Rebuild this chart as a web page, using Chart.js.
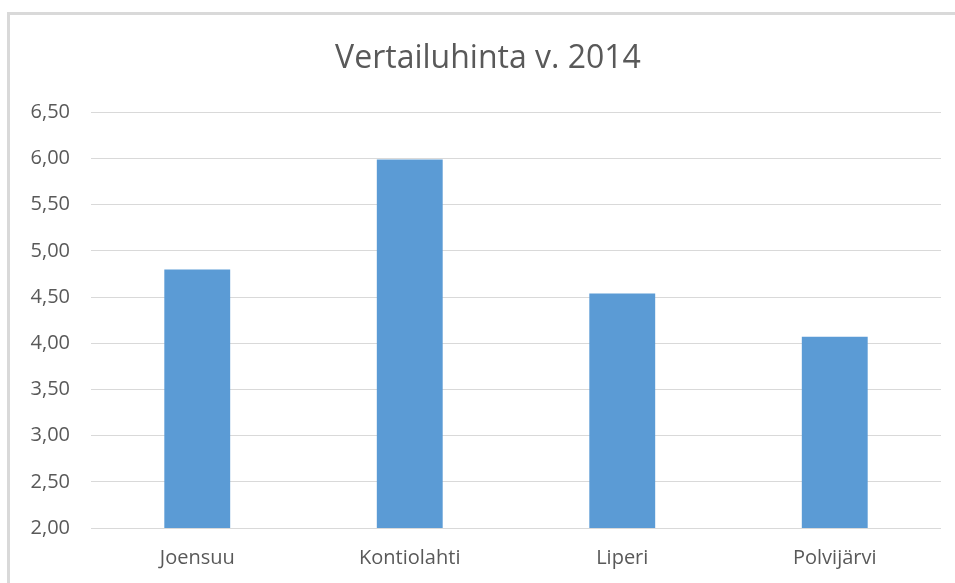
<!DOCTYPE html>
<html>
<head>
<meta charset="utf-8">
<script src="https://cdn.jsdelivr.net/npm/chart.js@4/dist/chart.umd.min.js"></script>
<style>
  html, body { margin: 0; padding: 0; background: #fff; overflow: hidden; width: 955px; height: 583px; }
  #frame { position: absolute; left: 7px; top: 12px; width: 980px; height: 600px;
           border-left: 3px solid #d9d9d9; border-top: 3px solid #d9d9d9; }
  #box { position: absolute; left: 0; top: 0; width: 960px; height: 568px; }
</style>
</head>
<body>
<div id="frame"><div id="box"><canvas id="c"></canvas></div></div>
<script>
const chartTitle = "Vertailuhinta v. 2014";
const categories = ["Joensuu", "Kontiolahti", "Liperi", "Polvijärvi"];
const values = [4.80, 5.99, 4.54, 4.07];
const yMin = 2.0, yMax = 6.5, yStep = 0.5;

const txt = '#595959';
new Chart(document.getElementById('c'), {
  type: 'bar',
  data: {
    labels: categories,
    datasets: [{
      data: values,
      backgroundColor: '#5b9bd5',
      borderWidth: 0,
      barPercentage: 0.31,
      categoryPercentage: 1.0
    }]
  },
  options: {
    responsive: true,
    maintainAspectRatio: false,
    animation: false,
    layout: { padding: { left: 0, right: 4, top: 0, bottom: 0 } },
    plugins: {
      legend: { display: false },
      tooltip: { enabled: false },
      title: {
        display: true,
        text: chartTitle,
        color: txt,
        font: { family: "'Open Sans'", size: 32, weight: 'normal', lineHeight: 1.2 },
        padding: { top: 25, bottom: 34 }
      }
    },
    scales: {
      x: {
        grid: { display: false, drawTicks: false },
        border: { display: false },
        ticks: { color: txt, font: { family: "'Open Sans'", size: 20 }, padding: 18, maxRotation: 0 },
        afterFit: (s) => { s.height = 55; }
      },
      y: {
        min: yMin, max: yMax,
        grid: { color: '#d9d9d9', lineWidth: 1, drawTicks: false },
        border: { display: false },
        ticks: {
          stepSize: yStep,
          color: txt,
          font: { family: "'Open Sans'", size: 20 },
          padding: 21,
          callback: (v) => Number(v).toFixed(2).replace('.', ',')
        },
        afterFit: (s) => { s.width = 81; }
      },
      yRight: {
        position: 'right',
        min: yMin, max: yMax,
        grid: { display: false, drawTicks: false },
        border: { display: false },
        ticks: { display: false },
        afterFit: (s) => { s.width = 25; }
      }
    }
  }
});
</script>
</body>
</html>
